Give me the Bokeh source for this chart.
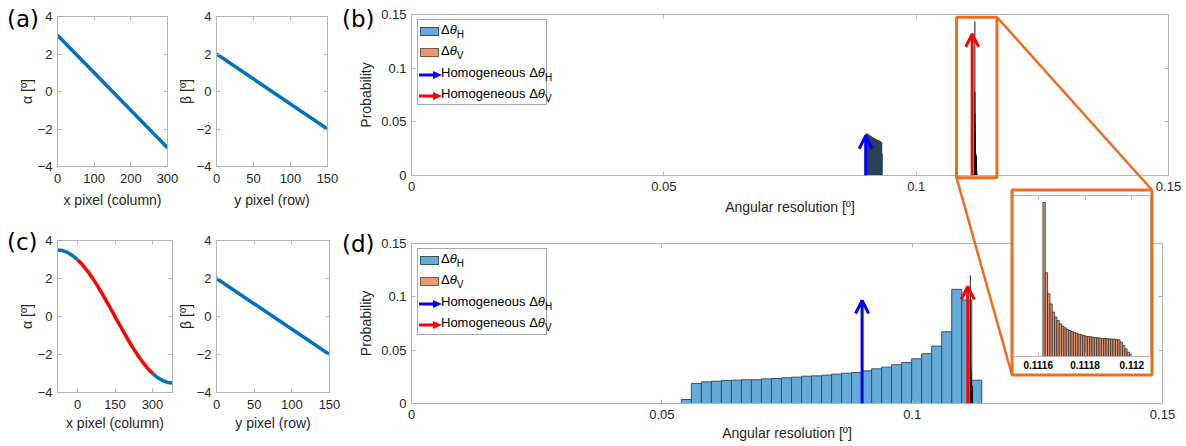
import numpy as np
from bokeh.plotting import figure
from bokeh.models import (Range1d, LinearAxis, FixedTicker, PrintfTickFormatter, Arrow, OpenHead,
                          Div, CustomLabelingPolicy)
from bokeh.layouts import column
from bokeh.embed import file_html
from bokeh.resources import INLINE

# ---------------- data ----------------
a_x = [0, 300]
a_alpha = [3.0, -3.0]
row_y = [0, 150]
row_beta = [2.0, -2.0]

c_x = [-80, -60, -40, -20, 0, 20, 40, 60, 80, 100, 120, 140,
       160, 180, 200, 220, 240, 260, 280, 300, 320, 340, 360, 380]
c_alpha = [3.50, 3.47, 3.37, 3.21, 2.99, 2.72, 2.39, 2.02, 1.61, 1.17, 0.71, 0.24,
           -0.24, -0.71, -1.17, -1.61, -2.02, -2.39, -2.72, -2.99, -3.21, -3.37, -3.47, -3.50]
red_from, red_to = 0, 300

# (b) horizontal resolution histogram (narrow bins)
dH_b_start, dH_b_width = 0.0900, 0.0001
dH_b_prob = [0.0385, 0.0390, 0.0388, 0.0385, 0.0382, 0.0379, 0.0376, 0.0373, 0.0370, 0.0367,
             0.0364, 0.0361, 0.0358, 0.0355, 0.0352, 0.0349, 0.0346, 0.0343, 0.0340, 0.0337,
             0.0335, 0.0333, 0.0331, 0.0329, 0.0327, 0.0325, 0.0323, 0.0321, 0.0318, 0.0315,
             0.0311, 0.0307, 0.0205]
# vertical resolution histogram (very narrow bins, shown in inset)
dV_start, dV_width = 0.11162, 0.00001
dV_b_prob = [0.1435, 0.0780, 0.0584, 0.0490, 0.0413, 0.0367, 0.0335, 0.0304, 0.0283, 0.0267,
             0.0252, 0.0242, 0.0233, 0.0224, 0.0217, 0.0208, 0.0202, 0.0196, 0.0189, 0.0186,
             0.0183, 0.0180, 0.0177, 0.0174, 0.0171, 0.0168, 0.0168, 0.0165, 0.0165, 0.0162,
             0.0162, 0.0158, 0.0155, 0.0134, 0.0102, 0.0071, 0.0040, 0.0019]
dV_d_prob = [0.1200, 0.0780, 0.0584, 0.0490, 0.0413, 0.0367, 0.0335, 0.0304, 0.0283, 0.0267,
             0.0252, 0.0242, 0.0233, 0.0224, 0.0217, 0.0208, 0.0202, 0.0196, 0.0189, 0.0186,
             0.0183, 0.0180, 0.0177, 0.0174, 0.0171, 0.0168, 0.0168, 0.0165, 0.0165, 0.0162,
             0.0162, 0.0158, 0.0155, 0.0134, 0.0102, 0.0071, 0.0040, 0.0019]
# (d) horizontal resolution histogram
dH_d_start, dH_d_width = 0.0539, 0.002
dH_d_prob = [0.0038, 0.0188, 0.0203, 0.0209, 0.0216, 0.0219, 0.0222, 0.0222, 0.0231, 0.0234,
             0.0241, 0.0247, 0.0256, 0.0259, 0.0266, 0.0275, 0.0284, 0.0291, 0.0306, 0.0325,
             0.0341, 0.0363, 0.0384, 0.0419, 0.0466, 0.0538, 0.0672, 0.1070, 0.0970, 0.0218]

hom_H = 0.0900
hom_V = 0.1111
arrow_top_b = [0.037, 0.132]
arrow_top_d = [0.0966, 0.1097]
zoom_x = (0.108, 0.116)
zoom_y = (-0.002, 0.1475)

ang_ticks = [0, 0.05, 0.1, 0.15]
inset_ticks = [0.1116, 0.1118, 0.112]

# ---------------- styles ----------------
FONT = "Liberation Sans"
AXC = "#b4b4b4"
TXT = "#262626"
LINE_BLUE = "#0072BD"
H_FILL, H_EDGE = "#66AAD7", "#34536b"
V_FILL, V_EDGE = "#E89875", "#3a2a22"
ORANGE = "#EE6C1E"

NO_LABELS = "const all = [...indices]; for (const i of all) indices.unset(i); return indices"


def style_axis(ax, ticks, fmt=None, size="13px"):
    ax.ticker = FixedTicker(ticks=ticks)
    ax.axis_line_color = AXC
    ax.major_tick_line_color = AXC
    ax.major_tick_in = 4
    ax.major_tick_out = 0
    ax.minor_tick_line_color = None
    ax.major_label_text_font = FONT
    ax.major_label_text_font_size = size
    ax.major_label_text_color = TXT
    ax.axis_label_text_font = FONT
    ax.axis_label_text_font_size = "14px"
    ax.axis_label_text_font_style = "normal"
    ax.axis_label_text_color = TXT
    if fmt is not None:
        ax.formatter = fmt


def mirror_axis(p, loc, ticks):
    ax = LinearAxis(ticker=FixedTicker(ticks=ticks), major_label_text_font_size="1px",
                    major_label_policy=CustomLabelingPolicy(code=NO_LABELS),
                    major_label_standoff=0, axis_line_color=AXC, major_tick_line_color=AXC,
                    major_tick_in=4, major_tick_out=0, minor_tick_line_color=None)
    p.add_layout(ax, loc)


def make_fig(box, frame, xr, yr, xticks, yticks, xlabel, ylabel, fmt=None,
             xstand=(6, 3), ystand=(5, 3), ybase=None):
    left, top, w, h = box
    fl, ft, fr, fb = frame
    p = figure(width=w, height=h, x_range=Range1d(*xr), y_range=Range1d(*yr),
               output_backend="svg", toolbar_location=None, frame_align=False,
               min_border_left=fl - left, min_border_right=left + w - fr,
               min_border_top=ft - top, min_border_bottom=top + h - fb)
    p.styles = {"position": "absolute", "left": f"{left}px", "top": f"{top}px"}
    p.grid.visible = False
    p.background_fill_color = "white"
    p.border_fill_color = None
    p.outline_line_color = AXC
    style_axis(p.xaxis[0], xticks, fmt)
    style_axis(p.yaxis[0], yticks, fmt)
    p.xaxis[0].axis_label = xlabel
    p.yaxis[0].axis_label = ylabel
    p.xaxis[0].major_label_standoff = xstand[0]
    p.xaxis[0].axis_label_standoff = xstand[1]
    p.yaxis[0].major_label_standoff = ystand[0]
    p.yaxis[0].axis_label_standoff = ystand[1]
    if ybase is not None:
        p.yaxis[0].axis_label_text_baseline = ybase
    mirror_axis(p, "above", xticks)
    mirror_axis(p, "right", yticks)
    return p


# ---------------- panel (a) ----------------
A1 = make_fig((0, 0, 186, 222), (57, 16, 167, 166), (0, 300), (-4, 4),
              [0, 100, 200, 300], [-4, -2, 0, 2, 4], "x pixel (column)", "α [º]",
              xstand=(7, 6), ystand=(5, 0), ybase="middle")
A1.line(a_x, a_alpha, line_color=LINE_BLUE, line_width=3.5)

A2 = make_fig((166, 0, 174, 222), (216, 16, 327, 166), (0, 150), (-4, 4),
              [0, 50, 100, 150], [-4, -2, 0, 2, 4], "y pixel (row)", "β [º]",
              xstand=(7, 6), ystand=(5, 0), ybase="middle")
A2.line(row_y, row_beta, line_color=LINE_BLUE, line_width=3.5)

# ---------------- panel (c) ----------------
C1 = make_fig((0, 222, 186, 224), (57, 240, 172, 392), (-80, 380), (-4, 4),
              [0, 150, 300], [-4, -2, 0, 2, 4], "x pixel (column)", "α [º]",
              xstand=(7, 3), ystand=(5, 0), ybase="middle")
i0 = c_x.index(red_from)
i1 = c_x.index(red_to)
C1.line(c_x[:i0 + 1], c_alpha[:i0 + 1], line_color=LINE_BLUE, line_width=3.5)
C1.line(c_x[i1:], c_alpha[i1:], line_color=LINE_BLUE, line_width=3.5)
C1.line(c_x[i0:i1 + 1], c_alpha[i0:i1 + 1], line_color="#FF0000", line_width=3.5)

C2 = make_fig((166, 222, 176, 224), (216, 240, 329, 392), (0, 150), (-4, 4),
              [0, 50, 100, 150], [-4, -2, 0, 2, 4], "y pixel (row)", "β [º]",
              xstand=(7, 3), ystand=(5, 0), ybase="middle")
C2.line(row_y, row_beta, line_color=LINE_BLUE, line_width=3.5)

# ---------------- panel (b) ----------------
B_BOX, B_FRAME = (338, 0, 848, 222), (411, 14, 1168, 175)
B_XR, B_YR = (0, 0.15), (0, 0.15)
fmt = PrintfTickFormatter(format="%g")
B = make_fig(B_BOX, B_FRAME, B_XR, B_YR, ang_ticks, ang_ticks,
             "Angular resolution [º]", "Probability", fmt=fmt,
             xstand=(6, 5), ystand=(5, 4))


def bars(p, start, width, probs, fill, edge, lw):
    left = start + width * np.arange(len(probs))
    p.quad(left=left, right=left + width, bottom=0, top=probs,
           fill_color=fill, line_color=edge, line_width=lw)


bars(B, dH_b_start, dH_b_width, dH_b_prob, H_FILL, "#1f2d3a", 0.6)
bars(B, dV_start, dV_width, dV_b_prob, V_FILL, "#111111", 0.6)


def arrows(p, tops):
    for xv, yt, col in ((hom_H, tops[0], "#0000FF"), (hom_V, tops[1], "#FF0000")):
        p.add_layout(Arrow(x_start=xv, y_start=0, x_end=xv, y_end=yt,
                           line_color=col, line_width=3,
                           end=OpenHead(size=13, line_color=col, line_width=3)))


arrows(B, arrow_top_b)

# ---------------- panel (d) ----------------
D = make_fig((338, 222, 848, 224), (411, 243, 1162, 403), (0, 0.15), (0, 0.15),
             ang_ticks, ang_ticks, "Angular resolution [º]", "Probability", fmt=fmt,
             xstand=(6, 3), ystand=(5, 4))
bars(D, dH_d_start, dH_d_width, dH_d_prob, H_FILL, H_EDGE, 1)
bars(D, dV_start, dV_width, dV_d_prob, V_FILL, "#111111", 0.6)
arrows(D, arrow_top_d)

# ---------------- inset ----------------
IN_BOX, IN_FRAME = (1010, 188, 143, 188), (1012, 195, 1150, 356)
IN = figure(width=IN_BOX[2], height=IN_BOX[3], x_range=Range1d(0.11149, 0.11208),
            y_range=Range1d(0, 0.15), output_backend="svg", toolbar_location=None,
            frame_align=False,
            min_border_left=IN_FRAME[0] - IN_BOX[0],
            min_border_right=IN_BOX[0] + IN_BOX[2] - IN_FRAME[2],
            min_border_top=IN_FRAME[1] - IN_BOX[1],
            min_border_bottom=IN_BOX[1] + IN_BOX[3] - IN_FRAME[3])
IN.styles = {"position": "absolute", "left": f"{IN_BOX[0]}px", "top": f"{IN_BOX[1]}px"}
IN.grid.visible = False
IN.background_fill_color = "white"
IN.border_fill_color = "white"
IN.outline_line_color = AXC
IN.yaxis.visible = False
style_axis(IN.xaxis[0], inset_ticks, PrintfTickFormatter(format="%g"), size="10px")
IN.xaxis[0].major_label_text_font_style = "bold"
IN.xaxis[0].major_label_text_color = "#000000"
IN.xaxis[0].major_label_standoff = 4
mirror_axis(IN, "above", inset_ticks)
bars(IN, dV_start, dV_width, dV_b_prob, V_FILL, "#2b2b2b", 0.8)

# ---------------- zoom overlay (box + connectors) ----------------


def b_page(x, y):
    px = B_FRAME[0] + (x - B_XR[0]) / (B_XR[1] - B_XR[0]) * (B_FRAME[2] - B_FRAME[0])
    py = B_FRAME[3] - (y - B_YR[0]) / (B_YR[1] - B_YR[0]) * (B_FRAME[3] - B_FRAME[1])
    return px, py


zl, zb = b_page(zoom_x[0], zoom_y[0])
zr, zt = b_page(zoom_x[1], zoom_y[1])
il, it = IN_BOX[0] + 1.5, IN_BOX[1] + 1.5
ir, ib = IN_BOX[0] + IN_BOX[2] - 1.5, IN_BOX[1] + IN_BOX[3] - 1.5

OV = figure(width=1186, height=446, x_range=Range1d(0, 1186), y_range=Range1d(446, 0),
            output_backend="svg", toolbar_location=None, x_axis_type=None, y_axis_type=None,
            min_border=0, frame_align=False)
OV.styles = {"position": "absolute", "left": "0px", "top": "0px"}
OV.background_fill_color = None
OV.border_fill_color = None
OV.outline_line_color = None
OV.quad(left=[zl, il], right=[zr, ir], top=[zt, it], bottom=[zb, ib],
        fill_color=None, line_color=ORANGE, line_width=3)
OV.segment(x0=[zr, zl], y0=[zt, zb], x1=[ir, il], y1=[it, ib],
           line_color=ORANGE, line_width=2.5)

# ---------------- panel labels & legends ----------------


def label_div(txt, left, top):
    return Div(text=f'<span style="font-family:\'DejaVu Sans\';font-size:23px;line-height:24px;color:#000">{txt}</span>',
               width=44, height=26,
               styles={"position": "absolute", "left": f"{left}px", "top": f"{top}px", "margin": "0"})


def legend_div(left, top, w, h):
    def sw(fill, edge, t):
        return (f'<div style="position:absolute;left:2px;top:{t}px;width:19px;height:9px;'
                f'background:{fill};border:1px solid {edge}"></div>')

    def arr(col, t):
        return (f'<svg style="position:absolute;left:1px;top:{t}px" width="24" height="10">'
                f'<line x1="0" y1="5" x2="15" y2="5" stroke="{col}" stroke-width="3"/>'
                f'<polygon points="14,1 23,5 14,9" fill="{col}"/></svg>')

    def tx(s, t):
        return (f'<div style="position:absolute;left:23px;top:{t}px;white-space:nowrap">{s}</div>')

    sub = 'style="font-size:10px;line-height:0;vertical-align:-4px"'
    dH = f'Δ<i>θ</i><sub {sub}>H</sub>'
    dV = f'Δ<i>θ</i><sub {sub}>V</sub>'
    inner = (sw(H_FILL, H_EDGE, 7) + sw(V_FILL, "#7a5a4a", 28) +
             arr("#0000FF", 50) + arr("#FF0000", 71) +
             tx(dH, 2) + tx(dV, 23) + tx("Homogeneous " + dH, 45) + tx("Homogeneous " + dV, 66))
    html = (f'<div style="position:relative;width:{w - 2}px;height:{h - 2}px;border:1px solid #a8a8a8;'
            f'background:#fff;font-family:\'Liberation Sans\';font-size:13px;line-height:15px;color:#000">'
            f'{inner}</div>')
    return Div(text=html, width=w, height=h,
               styles={"position": "absolute", "left": f"{left}px", "top": f"{top}px", "margin": "0"})


divs = [label_div("(a)", 7, 7), label_div("(b)", 342, 7),
        label_div("(c)", 7, 230), label_div("(d)", 342, 232),
        legend_div(417, 19, 132, 88), legend_div(417, 248, 132, 89)]

root = column(children=[A1, A2, C1, C2, B, D, IN, OV] + divs, width=1186, height=446,
              styles={"position": "relative"})

open("out.html", "w").write(file_html(root, INLINE))
